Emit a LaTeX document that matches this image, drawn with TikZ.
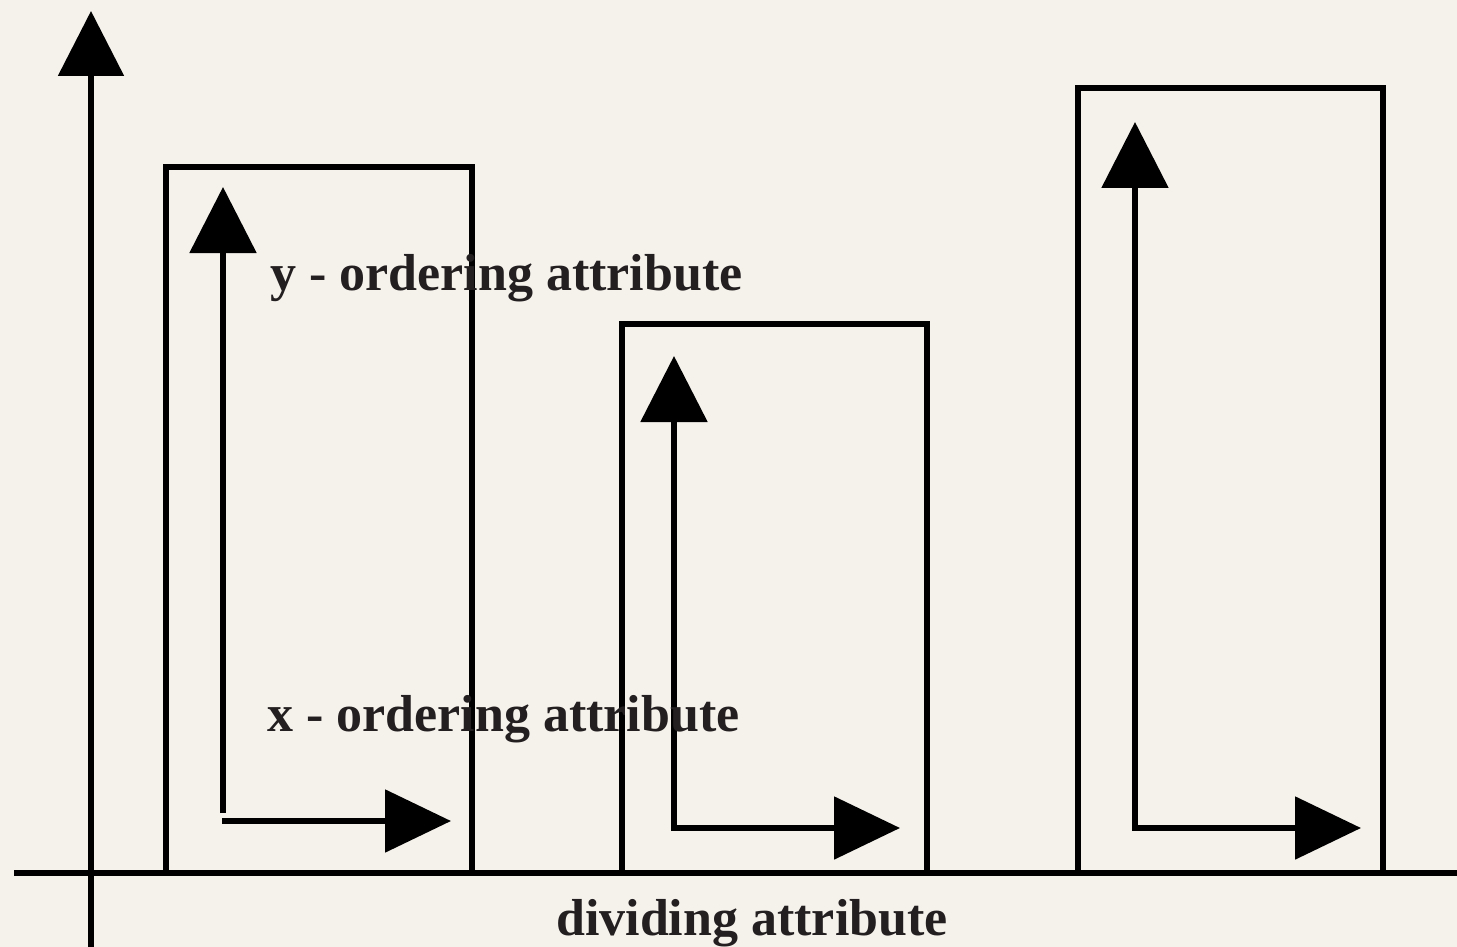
\documentclass[tikz,border=0pt]{standalone}
\usepackage{fontspec}
\setmainfont{Liberation Serif}
\usetikzlibrary{arrows.meta}
\definecolor{paper}{RGB}{245,242,236}
\definecolor{ink}{RGB}{35,31,32}
\tikzset{
  axisline/.style={line width=5.5pt, draw=black},
  boxline/.style={line width=6.5pt, draw=black, line join=miter},
  ordarrow/.style={line width=5.5pt, draw=black},
  uptip/.style={-{Triangle[length=66pt,width=66pt]}},
  righttip/.style={-{Triangle[length=66pt,width=62pt]}},
  lbl/.style={inner sep=0pt, anchor=base west, text=ink, font=\fontsize{52}{60}\selectfont\bfseries}
}
\begin{document}
\begin{tikzpicture}[x=1pt,y=-1pt]
\fill[paper] (0,0) rectangle (1457,947);
\useasboundingbox (0,0) rectangle (1457,947);
% axes
\coordinate (ybot) at (91,947);
\coordinate (ytop) at (91,11);
\coordinate (xl) at (14,873);
\coordinate (xr) at (1457,873);
\draw[axisline] (xl) -- (xr);
\draw[axisline,-{Triangle[length=65pt,width=65pt]}] (ybot) -- (ytop);
% boxes
\coordinate (b1a) at (166,167); \coordinate (b1b) at (472,873);
\coordinate (b2a) at (622,324); \coordinate (b2b) at (927,873);
\coordinate (b3a) at (1078,88); \coordinate (b3b) at (1383,873);
\draw[boxline] (b1a) rectangle (b1b);
\draw[boxline] (b2a) rectangle (b2b);
\draw[boxline] (b3a) rectangle (b3b);
% box 1 arrows
\coordinate (c1v) at (223,813); \coordinate (t1v) at (223,187);
\coordinate (c1h) at (222,821); \coordinate (t1h) at (451,821);
\draw[ordarrow,uptip] (c1v) -- (t1v);
\draw[ordarrow,righttip] (c1h) -- (t1h);
% box 2 arrows
\coordinate (c2) at (674,828); \coordinate (t2v) at (674,356); \coordinate (t2h) at (900,828);
\draw[ordarrow,uptip] (c2) -- (t2v);
\draw[ordarrow,righttip] ([xshift=-2.75pt]c2) -- (t2h);
% box 3 arrows
\coordinate (c3) at (1135,828); \coordinate (t3v) at (1135,122); \coordinate (t3h) at (1361,828);
\draw[ordarrow,uptip] (c3) -- (t3v);
\draw[ordarrow,righttip] ([xshift=-2.75pt]c3) -- (t3h);
% labels
\node[lbl] (ylab) at (270,290) {y - ordering attribute};
\node[lbl] (xlab) at (267,731) {x - ordering attribute};
\node[lbl] (dlab) at (556,935) {dividing attribute};
\end{tikzpicture}
\end{document}
